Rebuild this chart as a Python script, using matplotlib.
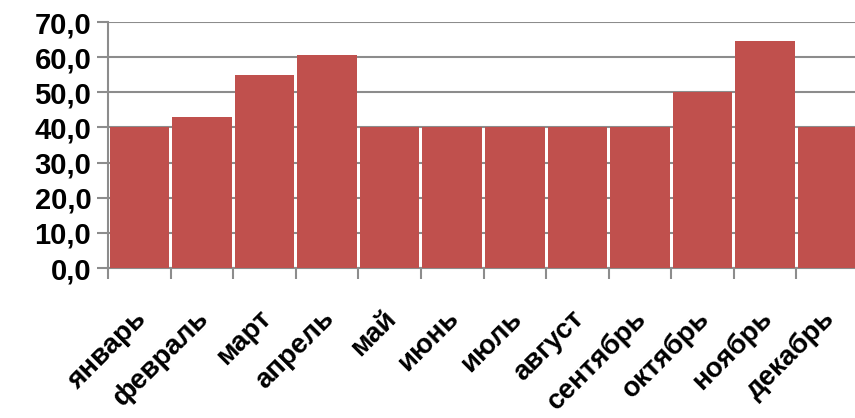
import matplotlib.pyplot as plt
import matplotlib.transforms as mtransforms
import numpy as np

months = ['январь', 'февраль', 'март', 'апрель', 'май', 'июнь',
          'июль', 'август', 'сентябрь', 'октябрь', 'ноябрь', 'декабрь']
values = [40.0, 43.0, 55.0, 60.5, 40.0, 40.0, 40.0, 40.0, 40.0, 50.0, 64.5, 40.0]
y_ticks = [0, 10, 20, 30, 40, 50, 60, 70]

plt.rcParams['font.family'] = ['Liberation Sans', 'DejaVu Sans']

fig = plt.figure(figsize=(8.55, 4.18), dpi=100)
ax = fig.add_axes([108 / 855, 1 - 268 / 418, 751 / 855, 246 / 418])

x = np.arange(len(months))
ax.bar(x, values, width=0.95, color='#C0504D', zorder=3)

ax.set_xlim(-0.5, len(months) - 0.5)
ax.set_ylim(0, 70)
ax.set_yticks(y_ticks)
ax.set_yticklabels([f'{v:.1f}'.replace('.', ',') for v in y_ticks],
                   fontsize=21, fontweight='bold')
ax.yaxis.grid(True, color='#8c8c8c', linewidth=1.5, zorder=0)

# category boundary ticks
ax.set_xticks(np.arange(len(months) + 1) - 0.5, minor=True)
ax.tick_params(axis='x', which='minor', length=8, width=1.5, color='#8c8c8c')
ax.tick_params(axis='x', which='major', length=0)
ax.tick_params(axis='y', length=8, width=1.5, color='#8c8c8c', pad=4)
ax.set_xticks(x)
ax.set_xticklabels(months, rotation=45, ha='right', va='center',
                   rotation_mode='anchor', fontsize=20, fontweight='bold')
offset = mtransforms.ScaledTranslation(0.03, -0.42, fig.dpi_scale_trans)
for lbl in ax.get_xticklabels():
    lbl.set_transform(lbl.get_transform() + offset)

for s in ['top', 'right']:
    ax.spines[s].set_visible(False)
for s in ['left', 'bottom']:
    ax.spines[s].set_color('#8c8c8c')
    ax.spines[s].set_linewidth(1.5)

fig.savefig('out.png', dpi=100)
